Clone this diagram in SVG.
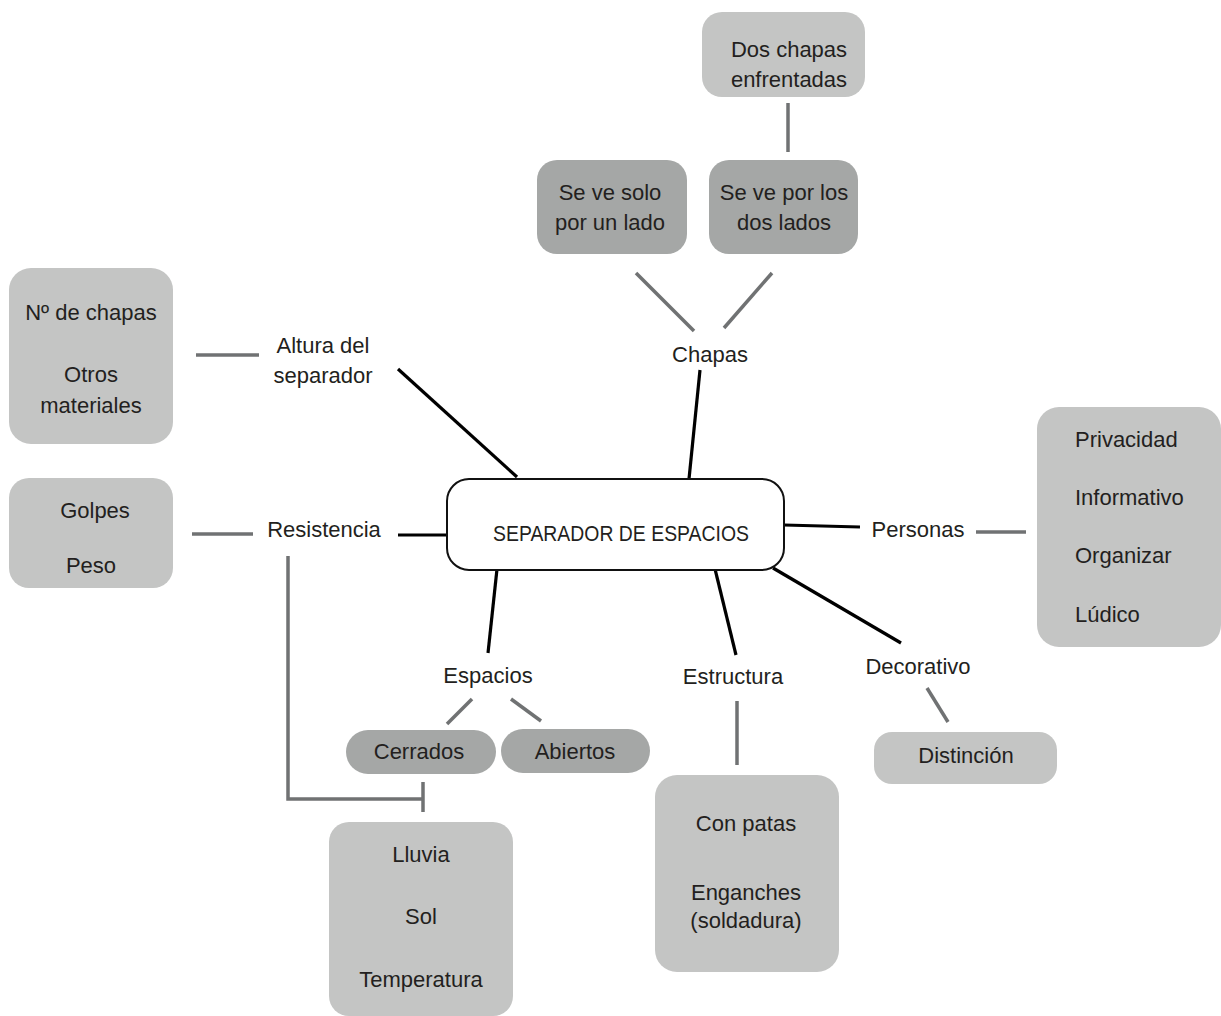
<svg xmlns="http://www.w3.org/2000/svg" width="1221" height="1016" viewBox="0 0 1221 1016">
<style>
text{font-family:"Liberation Sans",Arial,sans-serif;font-size:22px;fill:#231f20;text-anchor:middle}
.light{fill:#c4c5c4}
.dark{fill:#a5a7a6}
.main{fill:#ffffff;stroke:#111;stroke-width:2}
.k{stroke:#000;stroke-width:3.2;fill:none}
.g{stroke:#707273;stroke-width:3.5;fill:none}
.l{text-anchor:start}
</style>
<rect width="1221" height="1016" fill="#ffffff"/>
<g id="connectors">
<line class="k" x1="700" y1="370" x2="689" y2="479"/>
<line class="k" x1="398" y1="369" x2="517" y2="477"/>
<line class="k" x1="398" y1="535" x2="447" y2="535"/>
<line class="k" x1="784" y1="525" x2="860" y2="527"/>
<line class="k" x1="773" y1="568" x2="901" y2="643"/>
<line class="k" x1="497" y1="569" x2="488" y2="653"/>
<line class="k" x1="715" y1="569" x2="736" y2="655"/>
<line class="g" x1="788" y1="103" x2="788" y2="152"/>
<line class="g" x1="636" y1="273" x2="694" y2="331"/>
<line class="g" x1="772" y1="273" x2="724" y2="328"/>
<line class="g" x1="196" y1="355" x2="259" y2="355"/>
<line class="g" x1="192" y1="534" x2="253" y2="534"/>
<polyline class="g" points="288,556 288,799 423,799"/>
<line class="g" x1="423" y1="782" x2="423" y2="812"/>
<line class="g" x1="472" y1="699" x2="447" y2="724"/>
<line class="g" x1="511" y1="699" x2="541" y2="721"/>
<line class="g" x1="737" y1="701" x2="737" y2="765"/>
<line class="g" x1="927" y1="688" x2="948" y2="722"/>
<line class="g" x1="976" y1="532" x2="1026" y2="532"/>
</g>
<g id="n-center"><rect class="main" x="447" y="479" width="337" height="91" rx="22"/><text x="621" y="541" font-size="21" textLength="256" lengthAdjust="spacingAndGlyphs">SEPARADOR DE ESPACIOS</text></g>
<g id="n-doschapas"><rect class="light" x="702" y="12" width="163" height="85" rx="20"/><text x="789" y="57">Dos chapas</text><text x="789" y="87">enfrentadas</text></g>
<g id="n-seve1"><rect class="dark" x="537" y="160" width="150" height="94" rx="20"/><text x="610" y="200">Se ve solo</text><text x="610" y="230">por un lado</text></g>
<g id="n-seve2"><rect class="dark" x="709" y="160" width="149" height="94" rx="20"/><text x="784" y="200">Se ve por los</text><text x="784" y="230">dos lados</text></g>
<g id="n-chapas"><text x="710" y="362">Chapas</text></g>
<g id="n-altura"><text x="323" y="353">Altura del</text><text x="323" y="383">separador</text></g>
<g id="n-nchapas"><rect class="light" x="9" y="268" width="164" height="176" rx="22"/><text x="91" y="320">Nº de chapas</text><text x="91" y="382">Otros</text><text x="91" y="413">materiales</text></g>
<g id="n-golpes"><rect class="light" x="9" y="478" width="164" height="110" rx="20"/><text x="95" y="518">Golpes</text><text x="91" y="573">Peso</text></g>
<g id="n-resistencia"><text x="324" y="537">Resistencia</text></g>
<g id="n-personas"><text x="918" y="537">Personas</text></g>
<g id="n-personasbox"><rect class="light" x="1037" y="407" width="184" height="240" rx="22"/><text class="l" x="1075" y="447">Privacidad</text><text class="l" x="1075" y="505">Informativo</text><text class="l" x="1075" y="563">Organizar</text><text class="l" x="1075" y="622">Lúdico</text></g>
<g id="n-decorativo"><text x="918" y="674">Decorativo</text></g>
<g id="n-distincion"><rect class="light" x="874" y="732" width="183" height="52" rx="18"/><text x="966" y="763">Distinción</text></g>
<g id="n-espacios"><text x="488" y="683">Espacios</text></g>
<g id="n-cerrados"><rect class="dark" x="346" y="730" width="150" height="44" rx="22"/><text x="419" y="759">Cerrados</text></g>
<g id="n-abiertos"><rect class="dark" x="501" y="729" width="149" height="44" rx="22"/><text x="575" y="759">Abiertos</text></g>
<g id="n-lluvia"><rect class="light" x="329" y="822" width="184" height="194" rx="20"/><text x="421" y="862">Lluvia</text><text x="421" y="924">Sol</text><text x="421" y="987">Temperatura</text></g>
<g id="n-estructura"><text x="733" y="684">Estructura</text></g>
<g id="n-conpatas"><rect class="light" x="655" y="775" width="184" height="197" rx="22"/><text x="746" y="831">Con patas</text><text x="746" y="900">Enganches</text><text x="746" y="928">(soldadura)</text></g>
</svg>
